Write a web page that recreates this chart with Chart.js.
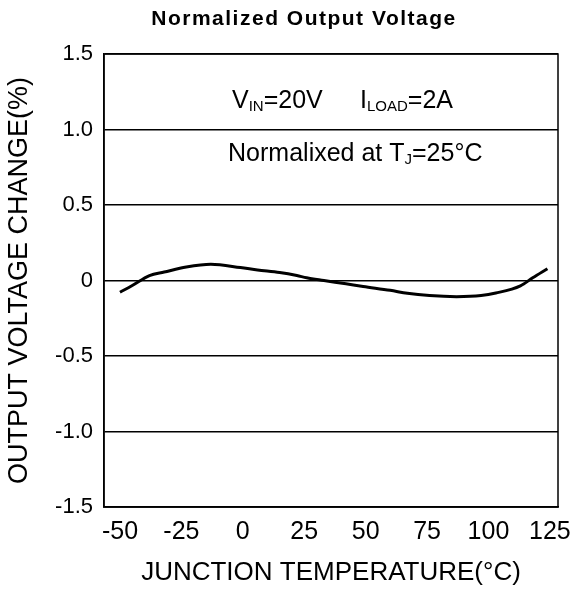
<!DOCTYPE html>
<html>
<head>
<meta charset="utf-8">
<script src="https://cdn.jsdelivr.net/npm/chart.js@4"></script>
<style>
  html, body { margin: 0; padding: 0; background: #fff; }
</style>
</head>
<body>
<canvas id="voltChart" width="573" height="589"></canvas>
<script>
// Junction temperature (C) and output voltage change (%)
const temps = [-50, -45, -38, -32, -23, -13, -1, 6, 15, 22, 26, 33, 42, 49, 60, 67, 76, 87, 97, 103, 113, 118, 124];
const changes = [-0.078, -0.033, 0.033, 0.056, 0.089, 0.107, 0.086, 0.07, 0.053, 0.033, 0.018, 0.0, -0.022, -0.04, -0.065, -0.085, -0.1, -0.107, -0.1, -0.083, -0.035, 0.018, 0.078];

const xTicks = [-50, -25, 0, 25, 50, 75, 100, 125];
const yTicks = [-1.5, -1.0, -0.5, 0, 0.5, 1.0, 1.5];

const FONT = '"Liberation Sans", Arial, sans-serif';

// frame, title and the two notes inside the plot
const extras = {
    id: 'extras',
    afterDraw(chart) {
        const ctx = chart.ctx;
        const area = chart.chartArea;
        const x = chart.scales.x, y = chart.scales.y;
        ctx.save();
        ctx.strokeStyle = '#000';
        ctx.lineWidth = 1.5;
        ctx.strokeRect(area.left, area.top, area.right - area.left, area.bottom - area.top);

        ctx.fillStyle = '#000';
        ctx.letterSpacing = '1.5px';
        ctx.font = 'bold 21px ' + FONT;
        ctx.textAlign = 'center';
        ctx.textBaseline = 'alphabetic';
        ctx.fillText('Normalized Output Voltage', 304, 25);

        ctx.letterSpacing = '0px';
        ctx.textAlign = 'left';
        const parts = (items, px, py) => {
            let cx = px;
            items.forEach(([txt, sub]) => {
                ctx.font = (sub ? '15px ' : '25px ') + FONT;
                ctx.fillText(txt, cx, py + (sub ? 3 : 0));
                cx += ctx.measureText(txt).width;
            });
        };
        parts([['V', 0], ['IN', 1], ['=20V', 0]], x.getPixelForValue(-4.4), y.getPixelForValue(1.142));
        parts([['I', 0], ['LOAD', 1], ['=2A', 0]], x.getPixelForValue(47.7), y.getPixelForValue(1.142));
        parts([['Normalixed at T', 0], ['J', 1], ['=25°C', 0]], x.getPixelForValue(-6), y.getPixelForValue(0.79));
        ctx.restore();
    }
};

const ctxVolt = document.getElementById('voltChart').getContext('2d');
const voltChart = new Chart(ctxVolt, {
    type: 'line',
    data: {
        datasets: [{
            data: temps.map((t, i) => ({ x: t, y: changes[i] })),
            borderColor: '#000',
            borderWidth: 3,
            pointRadius: 0,
            cubicInterpolationMode: 'monotone',
            fill: false,
        }]
    },
    options: {
        responsive: false,
        animation: false,
        layout: { padding: { top: 54, right: 15, left: 0, bottom: 0 } },
        scales: {
            x: {
                type: 'linear',
                min: -56.5,
                max: 128.3,
                afterBuildTicks: (s) => { s.ticks = xTicks.map(v => ({ value: v })); },
                afterFit: (s) => { s.height = 82; s.paddingLeft = 0; s.paddingRight = 0; },
                grid: { display: false, drawTicks: false },
                border: { display: true, color: '#000', width: 1.5 },
                ticks: {
                    color: '#000',
                    padding: 10,
                    maxRotation: 0,
                    autoSkip: false,
                    font: { family: FONT, size: 25 },
                },
                title: {
                    display: true,
                    text: 'JUNCTION TEMPERATURE(°C)',
                    color: '#000',
                    font: { family: FONT, size: 26 },
                    padding: { top: 0, bottom: 1 },
                },
            },
            y: {
                min: -1.5,
                max: 1.5,
                afterBuildTicks: (s) => { s.ticks = yTicks.map(v => ({ value: v })); },
                afterFit: (s) => { s.width = 104; s.paddingTop = 0; s.paddingBottom = 0; },
                grid: { color: '#000', lineWidth: 1.5, drawTicks: false },
                border: { display: true, color: '#000', width: 1.5 },
                ticks: {
                    color: '#000',
                    padding: 11,
                    font: { family: FONT, size: 22 },
                    callback: (v) => v === 0 ? '0' : v.toFixed(1),
                },
                title: {
                    display: true,
                    text: 'OUTPUT VOLTAGE CHANGE(%)',
                    color: '#000',
                    font: { family: FONT, size: 27 },
                    padding: { top: 3, bottom: 0 },
                },
            },
        },
        plugins: {
            legend: { display: false },
            tooltip: { enabled: false },
        },
    },
    plugins: [extras],
});
</script>
</body>
</html>
